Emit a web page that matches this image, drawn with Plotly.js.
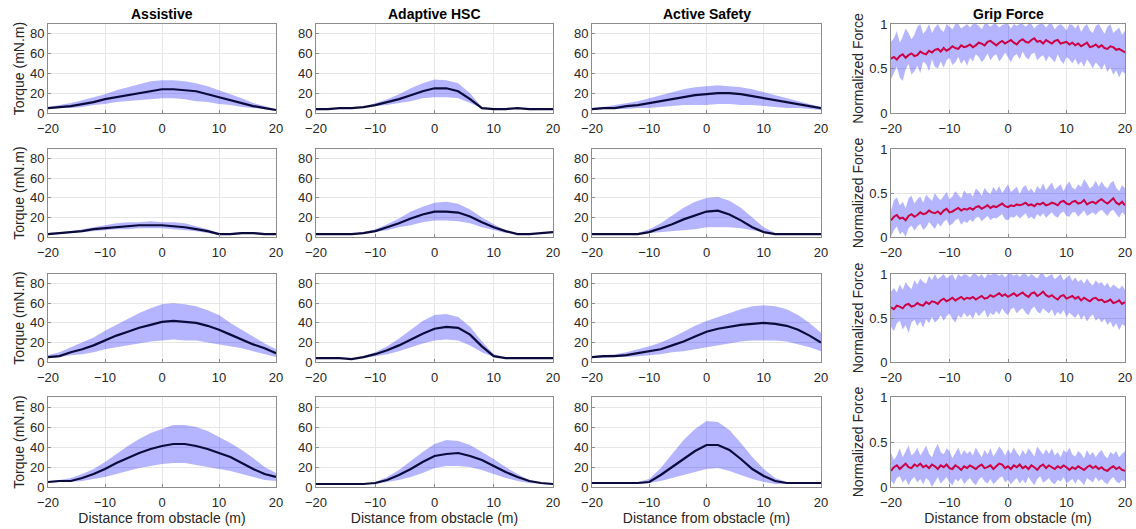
<!DOCTYPE html>
<html>
<head>
<meta charset="utf-8">
<script src="https://cdn.plot.ly/plotly-3.0.1.min.js"></script>
<style>
  html, body { margin: 0; padding: 0; background: #fff; }
  #chart { width: 1136px; height: 529px; }
</style>
</head>
<body>
<div id="chart"></div>
<script>
// Distance samples (m)
const distTorque = [-20,-18,-16,-14,-12,-10,-8,-6,-4,-2,0,2,4,6,8,10,12,14,16,18,20];
const distGrip = [
  -20,-19.5,-19,-18.5,-18,-17.5,-17,-16.5,-16,
  -15.5,-15,-14.5,-14,-13.5,-13,-12.5,-12,-11.5,
  -11,-10.5,-10,-9.5,-9,-8.5,-8,-7.5,-7,
  -6.5,-6,-5.5,-5,-4.5,-4,-3.5,-3,-2.5,
  -2,-1.5,-1,-0.5,0,0.5,1,1.5,2,
  2.5,3,3.5,4,4.5,5,5.5,6,6.5,
  7,7.5,8,8.5,9,9.5,10,10.5,11,
  11.5,12,12.5,13,13.5,14,14.5,15,15.5,
  16,16.5,17,17.5,18,18.5,19,19.5,20
];

// Torque (mN.m): mean and band limits, one set per condition and row
const assistive1Mean  = [5,6,7,9,11,14,16,18,20,22,24,24,23,22,19,16,13,10,7,5,3];
const assistive1Upper = [6,8,10,13,16,19,23,26,29,32,33,33,32,30,27,23,19,15,10,7,4];
const assistive1Lower = [4,5,5,6,8,9,11,12,13,14,15,15,14,12,11,9,8,6,5,4,2];

const adaptive1Mean  = [4,4,5,5,6,8,11,14,18,22,25,25,22,14,5,4,4,5,4,4,4];
const adaptive1Upper = [4,4,5,5,6,10,14,19,25,30,34,33,30,20,6,4,4,5,4,4,4];
const adaptive1Lower = [4,4,5,5,6,7,8,10,12,15,16,16,15,10,5,4,4,5,4,4,4];

const active1Mean  = [4,5,5,7,8,10,12,14,16,18,19,20,20,19,17,15,13,11,9,7,5];
const active1Upper = [5,6,8,10,12,15,18,21,24,26,27,28,27,26,24,21,18,15,12,9,6];
const active1Lower = [3,4,4,4,5,5,6,7,8,8,8,9,9,8,8,7,6,5,5,4,3];

const assistive2Mean  = [3,4,5,6,8,9,10,11,12,12,12,11,10,8,6,3,3,4,4,3,3];
const assistive2Upper = [4,5,6,8,10,12,14,15,15,16,15,15,14,11,8,4,4,5,5,4,4];
const assistive2Lower = [2,3,4,5,6,7,8,8,9,9,9,8,7,6,4,2,2,3,3,2,2];

const adaptive2Mean  = [3,3,3,3,4,6,10,14,19,23,26,26,25,21,15,10,6,3,3,4,5];
const adaptive2Upper = [3,3,3,3,5,8,13,19,26,31,35,36,34,28,20,13,7,3,3,4,5];
const adaptive2Lower = [3,3,3,3,4,5,7,10,12,15,17,17,16,14,10,7,4,3,3,4,4];

const active2Mean  = [3,3,3,3,3,5,9,13,18,22,26,27,23,17,10,5,3,3,3,3,3];
const active2Upper = [4,4,4,3,4,8,14,22,30,36,40,41,37,30,20,10,4,3,3,4,3];
const active2Lower = [3,3,3,2,3,4,5,6,7,8,10,10,10,9,7,5,3,3,3,2,3];

const assistive3Mean  = [5,6,10,13,17,22,27,31,35,38,41,42,41,40,37,33,28,23,18,14,9];
const assistive3Upper = [7,10,15,20,25,32,38,44,50,55,59,60,59,57,53,48,40,33,26,19,13];
const assistive3Lower = [4,5,7,8,10,13,15,17,19,21,22,23,22,22,20,18,16,14,11,8,5];

const adaptive3Mean  = [4,4,4,3,5,8,12,17,23,29,34,36,35,28,16,6,4,4,4,4,4];
const adaptive3Upper = [4,4,4,3,6,10,16,24,33,42,48,49,46,36,21,8,4,4,4,4,4];
const adaptive3Lower = [4,4,4,3,4,6,8,11,15,19,22,23,22,17,10,5,4,4,4,4,4];

const active3Mean  = [5,6,6,7,9,11,13,17,21,26,31,34,36,38,39,40,39,37,33,27,20];
const active3Upper = [6,7,8,10,13,16,20,25,31,37,42,46,50,54,57,58,57,54,48,40,30];
const active3Lower = [4,4,5,5,6,7,8,10,11,13,15,17,19,21,22,22,22,21,18,15,11];

const assistive4Mean  = [5,6,6,9,13,18,24,29,34,38,41,43,43,41,38,34,30,24,18,13,10];
const assistive4Upper = [6,7,9,13,18,25,33,41,48,54,58,62,62,60,56,50,44,37,29,20,14];
const assistive4Lower = [4,5,5,6,8,10,13,16,19,21,23,24,24,22,20,18,16,13,10,7,6];

const adaptive4Mean  = [3,3,3,3,3,4,7,12,18,25,31,33,34,31,27,21,15,10,6,4,3];
const adaptive4Upper = [3,3,3,3,3,5,10,17,26,35,43,47,46,42,35,28,20,13,7,4,3];
const adaptive4Lower = [3,3,3,3,3,3,5,7,10,14,19,21,21,20,17,13,9,6,4,3,2];

const active4Mean  = [4,4,4,4,4,5,12,20,28,36,42,42,37,28,18,11,6,4,4,4,4];
const active4Upper = [5,5,5,5,5,8,19,33,47,58,66,65,57,44,30,18,9,5,4,4,4];
const active4Lower = [3,3,3,3,3,4,6,9,12,15,18,19,16,12,8,5,3,3,3,3,3];

// Normalized grip force: mean and band limits per row
const grip1Mean = [
  0.61,0.63,0.60,0.64,0.66,0.62,0.65,0.67,0.64,
  0.65,0.69,0.67,0.66,0.70,0.68,0.71,0.72,0.69,
  0.73,0.70,0.72,0.75,0.73,0.72,0.76,0.74,0.75,
  0.77,0.74,0.76,0.79,0.78,0.76,0.80,0.81,0.78,
  0.76,0.79,0.81,0.78,0.80,0.82,0.79,0.77,0.81,
  0.83,0.80,0.79,0.82,0.84,0.80,0.81,0.78,0.82,
  0.80,0.78,0.81,0.82,0.78,0.79,0.80,0.77,0.79,
  0.76,0.78,0.75,0.77,0.79,0.74,0.75,0.77,0.74,
  0.76,0.73,0.72,0.75,0.74,0.71,0.72,0.70,0.68
];
const grip1Upper = [
  0.80,0.84,0.92,0.79,0.86,0.95,0.90,0.83,0.88,
  0.97,1.00,0.89,0.93,1.00,0.90,0.96,1.00,0.94,
  0.91,1.00,0.97,0.94,1.00,1.00,0.95,0.98,1.00,
  0.96,1.00,1.00,0.98,0.94,1.00,1.00,0.97,1.00,
  1.00,0.96,0.99,1.00,1.00,0.95,1.00,0.98,1.00,
  1.00,0.97,1.00,1.00,0.95,0.99,1.00,1.00,0.96,
  1.00,1.00,0.94,0.98,1.00,0.97,0.93,1.00,0.99,
  0.95,1.00,0.91,0.97,1.00,0.93,0.90,0.98,1.00,
  0.94,0.89,0.97,1.00,0.90,0.93,0.96,0.88,0.92
];
const grip1Lower = [
  0.38,0.46,0.52,0.40,0.36,0.49,0.55,0.43,0.47,
  0.53,0.45,0.58,0.55,0.47,0.60,0.52,0.50,0.58,
  0.51,0.59,0.62,0.54,0.57,0.63,0.55,0.60,0.53,
  0.62,0.58,0.66,0.63,0.57,0.61,0.67,0.59,0.64,
  0.66,0.58,0.62,0.68,0.63,0.57,0.64,0.66,0.60,
  0.69,0.63,0.60,0.66,0.68,0.59,0.63,0.65,0.58,
  0.64,0.61,0.57,0.66,0.59,0.55,0.63,0.60,0.56,
  0.61,0.54,0.58,0.52,0.60,0.56,0.50,0.57,0.53,
  0.49,0.55,0.46,0.51,0.43,0.48,0.40,0.47,0.44
];

const grip2Mean = [
  0.19,0.23,0.25,0.21,0.22,0.19,0.24,0.26,0.23,
  0.25,0.28,0.26,0.27,0.30,0.28,0.27,0.29,0.26,
  0.30,0.32,0.28,0.29,0.31,0.33,0.30,0.32,0.31,
  0.33,0.31,0.34,0.35,0.32,0.34,0.36,0.33,0.35,
  0.34,0.36,0.38,0.35,0.34,0.36,0.35,0.37,0.36,
  0.37,0.39,0.36,0.37,0.35,0.38,0.37,0.39,0.36,
  0.37,0.39,0.38,0.36,0.40,0.41,0.38,0.37,0.40,
  0.41,0.38,0.39,0.42,0.37,0.39,0.40,0.38,0.41,
  0.43,0.40,0.38,0.41,0.44,0.39,0.37,0.40,0.36
];
const grip2Upper = [
  0.30,0.42,0.45,0.36,0.40,0.33,0.44,0.47,0.38,
  0.43,0.46,0.39,0.48,0.44,0.41,0.50,0.45,0.42,
  0.47,0.51,0.43,0.46,0.52,0.48,0.44,0.53,0.49,
  0.50,0.46,0.55,0.52,0.47,0.56,0.51,0.49,0.57,
  0.52,0.58,0.50,0.55,0.60,0.51,0.54,0.57,0.49,
  0.56,0.59,0.52,0.55,0.50,0.58,0.54,0.61,0.53,
  0.58,0.62,0.54,0.57,0.60,0.52,0.59,0.63,0.56,
  0.54,0.60,0.57,0.66,0.61,0.55,0.58,0.64,0.57,
  0.63,0.58,0.55,0.61,0.64,0.56,0.52,0.59,0.55
];
const grip2Lower = [
  0.00,0.08,0.12,0.03,0.06,0.00,0.10,0.13,0.07,
  0.12,0.15,0.08,0.11,0.17,0.13,0.09,0.16,0.12,
  0.17,0.20,0.13,0.15,0.19,0.21,0.14,0.18,0.16,
  0.20,0.17,0.22,0.23,0.18,0.21,0.24,0.19,0.22,
  0.21,0.24,0.26,0.20,0.19,0.23,0.22,0.25,0.21,
  0.24,0.27,0.21,0.23,0.20,0.26,0.23,0.27,0.22,
  0.25,0.28,0.24,0.22,0.27,0.29,0.24,0.23,0.28,
  0.28,0.23,0.26,0.30,0.24,0.26,0.28,0.25,0.29,
  0.31,0.27,0.24,0.29,0.31,0.26,0.22,0.28,0.25
];

const grip3Mean = [
  0.62,0.60,0.64,0.63,0.61,0.65,0.66,0.63,0.64,
  0.67,0.65,0.64,0.68,0.66,0.69,0.68,0.66,0.70,
  0.72,0.69,0.71,0.73,0.70,0.72,0.74,0.71,0.73,
  0.72,0.74,0.71,0.73,0.75,0.72,0.73,0.76,0.74,
  0.76,0.78,0.75,0.77,0.74,0.76,0.78,0.75,0.77,
  0.79,0.76,0.74,0.78,0.79,0.75,0.77,0.80,0.76,
  0.74,0.76,0.73,0.71,0.75,0.76,0.72,0.74,0.75,
  0.72,0.74,0.70,0.73,0.71,0.69,0.72,0.73,0.70,
  0.71,0.68,0.69,0.71,0.67,0.68,0.70,0.66,0.68
];
const grip3Upper = [
  0.80,0.84,0.79,0.88,0.82,0.91,0.86,0.83,0.93,
  0.88,0.95,0.91,0.89,0.98,0.93,1.00,0.94,0.97,
  1.00,0.95,0.98,1.00,0.93,1.00,0.97,1.00,0.99,
  0.96,1.00,1.00,0.97,1.00,0.95,1.00,0.99,1.00,
  1.00,0.98,1.00,0.96,1.00,1.00,0.98,1.00,0.97,
  1.00,1.00,0.97,1.00,0.98,0.95,1.00,1.00,0.96,
  0.98,1.00,0.94,0.97,1.00,0.93,0.96,0.99,0.92,
  0.96,0.91,0.94,0.89,0.95,0.90,0.87,0.93,0.89,
  0.91,0.86,0.90,0.84,0.88,0.85,0.83,0.87,0.82
];
const grip3Lower = [
  0.40,0.35,0.44,0.47,0.37,0.42,0.33,0.45,0.48,
  0.41,0.46,0.39,0.49,0.44,0.51,0.45,0.48,0.53,
  0.47,0.52,0.55,0.49,0.45,0.53,0.50,0.56,0.51,
  0.54,0.49,0.57,0.52,0.55,0.59,0.50,0.56,0.53,
  0.58,0.54,0.61,0.56,0.53,0.60,0.62,0.55,0.59,
  0.61,0.56,0.53,0.60,0.63,0.57,0.55,0.61,0.58,
  0.55,0.60,0.52,0.57,0.54,0.59,0.51,0.56,0.53,
  0.50,0.55,0.48,0.53,0.46,0.51,0.54,0.47,0.50,
  0.45,0.49,0.42,0.46,0.39,0.44,0.36,0.43,0.41
];

const grip4Mean = [
  0.18,0.22,0.24,0.20,0.23,0.26,0.22,0.21,0.25,
  0.23,0.26,0.22,0.24,0.21,0.25,0.23,0.20,0.24,
  0.22,0.25,0.21,0.20,0.24,0.22,0.19,0.23,0.21,
  0.24,0.22,0.20,0.23,0.25,0.21,0.22,0.24,0.20,
  0.23,0.26,0.25,0.21,0.23,0.20,0.24,0.22,0.25,
  0.21,0.23,0.20,0.24,0.22,0.19,0.23,0.25,0.21,
  0.24,0.22,0.20,0.23,0.21,0.24,0.22,0.19,0.22,
  0.20,0.23,0.21,0.19,0.22,0.24,0.21,0.23,0.20,
  0.22,0.19,0.18,0.21,0.23,0.20,0.22,0.19,0.18
];
const grip4Upper = [
  0.38,0.30,0.35,0.43,0.33,0.40,0.46,0.35,0.38,
  0.44,0.35,0.40,0.46,0.37,0.33,0.42,0.48,0.39,
  0.36,0.43,0.40,0.32,0.38,0.44,0.35,0.41,0.37,
  0.40,0.35,0.44,0.38,0.33,0.41,0.36,0.43,0.34,
  0.39,0.45,0.41,0.35,0.42,0.37,0.44,0.38,0.34,
  0.41,0.36,0.43,0.39,0.34,0.45,0.40,0.36,0.42,
  0.37,0.43,0.35,0.39,0.33,0.41,0.38,0.44,0.36,
  0.34,0.40,0.37,0.32,0.41,0.35,0.39,0.33,0.38,
  0.41,0.35,0.32,0.39,0.36,0.40,0.33,0.37,0.40
];
const grip4Lower = [
  0.07,0.03,0.10,0.12,0.05,0.09,0.02,0.08,0.11,
  0.05,0.09,0.03,0.10,0.07,0.00,0.06,0.11,0.04,
  0.08,0.11,0.05,0.02,0.09,0.06,0.10,0.03,0.07,
  0.10,0.05,0.02,0.08,0.11,0.06,0.04,0.09,0.03,
  0.06,0.10,0.12,0.05,0.08,0.03,0.07,0.10,0.04,
  0.08,0.04,0.11,0.06,0.02,0.09,0.12,0.05,0.07,
  0.10,0.05,0.03,0.08,0.06,0.11,0.04,0.07,0.09,
  0.04,0.09,0.06,0.02,0.10,0.07,0.05,0.11,0.06,
  0.09,0.05,0.03,0.08,0.11,0.06,0.04,0.08,0.06
];

const columnTitles = ['Assistive', 'Adaptive HSC', 'Active Safety', 'Grip Force'];
const torqueTicks = [0, 20, 40, 60, 80];
const forceTicks = [0, 0.5, 1];
const distTicks = [-20, -10, 0, 10, 20];

// Panel grid: rows of [mean, upper, lower] per column
const torquePanels = [
  [[assistive1Mean, assistive1Upper, assistive1Lower], [adaptive1Mean, adaptive1Upper, adaptive1Lower], [active1Mean, active1Upper, active1Lower]],
  [[assistive2Mean, assistive2Upper, assistive2Lower], [adaptive2Mean, adaptive2Upper, adaptive2Lower], [active2Mean, active2Upper, active2Lower]],
  [[assistive3Mean, assistive3Upper, assistive3Lower], [adaptive3Mean, adaptive3Upper, adaptive3Lower], [active3Mean, active3Upper, active3Lower]],
  [[assistive4Mean, assistive4Upper, assistive4Lower], [adaptive4Mean, adaptive4Upper, adaptive4Lower], [active4Mean, active4Upper, active4Lower]]
];
const gripPanels = [
  [grip1Mean, grip1Upper, grip1Lower],
  [grip2Mean, grip2Upper, grip2Lower],
  [grip3Mean, grip3Upper, grip3Lower],
  [grip4Mean, grip4Upper, grip4Lower]
];

// Pixel placement of the plot boxes
const W = 1136, H = 529;
const colPx = [[48, 276], [316, 553], [592, 821], [891, 1125]];
const rowPx = [[24, 113], [149, 237], [274, 362], [397, 487]];

const FONT = 'Liberation Sans, Arial, Helvetica, sans-serif';
const TEXT = '#262626';
const BAND = 'rgba(0,0,255,0.29)';
const TORQUE_LINE = '#0b0b3b';
const GRIP_LINE = '#cc0044';

const traces = [];
const layout = {
  width: W, height: H,
  margin: {l: 0, r: 0, t: 0, b: 0},
  paper_bgcolor: '#fff', plot_bgcolor: '#fff',
  showlegend: false,
  font: {family: FONT, color: TEXT, size: 13},
  annotations: []
};

let idx = 0;
for (let r = 0; r < 4; r++) {
  for (let c = 0; c < 4; c++) {
    idx++;
    const xa = 'x' + (idx === 1 ? '' : idx);
    const ya = 'y' + (idx === 1 ? '' : idx);
    const isGrip = c === 3;
    const xs = isGrip ? distGrip : distTorque;
    const [mean, upper, lower] = isGrip ? gripPanels[r] : torquePanels[r][c];

    traces.push({x: xs, y: lower, xaxis: xa, yaxis: ya, type: 'scatter', mode: 'lines',
      line: {width: 0, color: BAND}, hoverinfo: 'skip'});
    traces.push({x: xs, y: upper, xaxis: xa, yaxis: ya, type: 'scatter', mode: 'lines',
      fill: 'tonexty', fillcolor: BAND, line: {width: 0, color: BAND}, hoverinfo: 'skip'});
    traces.push({x: xs, y: mean, xaxis: xa, yaxis: ya, type: 'scatter', mode: 'lines',
      line: {width: isGrip ? 2 : 2.2, color: isGrip ? GRIP_LINE : TORQUE_LINE}});

    const xKey = 'xaxis' + (idx === 1 ? '' : idx);
    const yKey = 'yaxis' + (idx === 1 ? '' : idx);
    const axisCommon = {
      showline: true, mirror: true, linecolor: '#8c8c8c', linewidth: 1,
      showgrid: true, gridcolor: '#e6e6e6', gridwidth: 1, zeroline: false,
      ticks: 'inside', ticklen: 3, tickcolor: '#8c8c8c',
      tickfont: {family: FONT, size: 13, color: TEXT}, fixedrange: true
    };
    layout[xKey] = Object.assign({}, axisCommon, {
      domain: [colPx[c][0] / W, colPx[c][1] / W],
      range: [-20, 20], tickmode: 'array', tickvals: distTicks,
      ticklabelstandoff: 3,
      anchor: ya
    });
    if (r === 3) {
      layout[xKey].title = {text: 'Distance from obstacle (m)', font: {family: FONT, size: 14, color: TEXT}, standoff: 3};
    }
    layout[yKey] = Object.assign({}, axisCommon, {
      domain: [1 - rowPx[r][1] / H, 1 - rowPx[r][0] / H],
      range: isGrip ? [0, 1] : [0, 90],
      tickmode: 'array', tickvals: isGrip ? forceTicks : torqueTicks,
      anchor: xa
    });
    if (c === 0) {
      layout[yKey].title = {text: 'Torque (mN.m)', font: {family: FONT, size: 14, color: TEXT}, standoff: 2};
    } else if (isGrip) {
      layout[yKey].title = {text: 'Normalized Force', font: {family: FONT, size: 14, color: TEXT}, standoff: 2};
    }
  }
}

// Column headings
for (let c = 0; c < 4; c++) {
  layout.annotations.push({
    text: '<b>' + columnTitles[c] + '</b>',
    xref: 'paper', yref: 'paper',
    x: (colPx[c][0] + colPx[c][1]) / 2 / W, y: 1 - 14 / H,
    xanchor: 'center', yanchor: 'middle', showarrow: false,
    font: {family: FONT, size: 14, color: '#000'}
  });
}

Plotly.newPlot('chart', traces, layout, {staticPlot: true, displayModeBar: false});
</script>
</body>
</html>
